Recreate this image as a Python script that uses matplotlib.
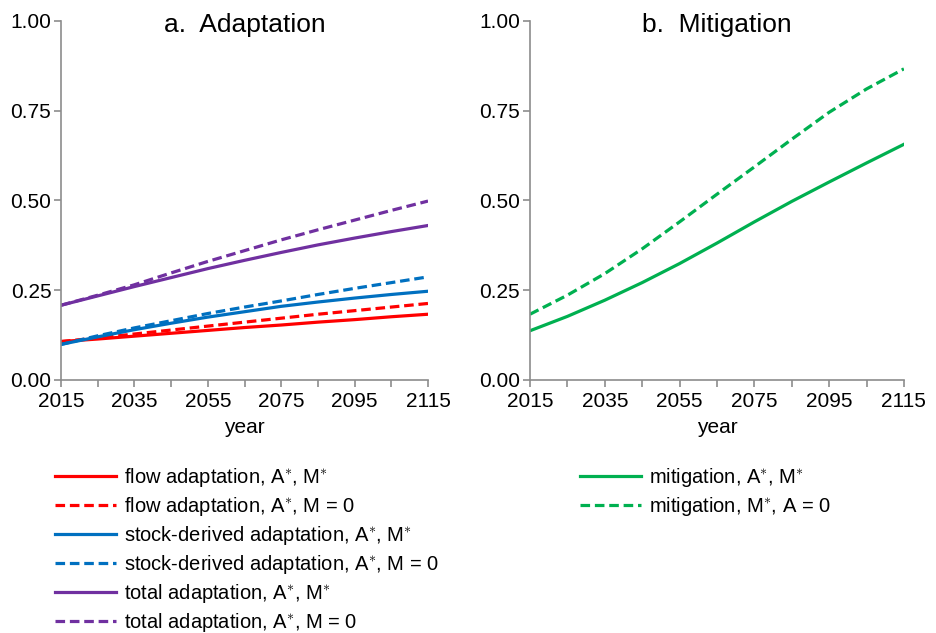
import matplotlib
matplotlib.use('Agg')
import matplotlib.pyplot as plt
import numpy as np

plt.rcParams['font.family'] = ['Liberation Sans', 'DejaVu Sans']
plt.rcParams['mathtext.fontset'] = 'custom'
plt.rcParams['mathtext.rm'] = 'Liberation Sans'
plt.rcParams['mathtext.it'] = 'Liberation Sans'

# Data
years = [2015, 2025, 2035, 2045, 2055, 2065, 2075, 2085, 2095, 2105, 2115]

flow_opt = [0.107, 0.114, 0.122, 0.130, 0.138, 0.146, 0.153, 0.161, 0.168, 0.176, 0.183]
flow_m0 = [0.107, 0.117, 0.128, 0.139, 0.150, 0.161, 0.172, 0.183, 0.193, 0.203, 0.213]
stock_opt = [0.099, 0.120, 0.140, 0.158, 0.175, 0.190, 0.205, 0.217, 0.228, 0.238, 0.247]
stock_m0 = [0.099, 0.123, 0.145, 0.165, 0.185, 0.203, 0.220, 0.238, 0.255, 0.271, 0.287]
total_opt = [0.208, 0.234, 0.260, 0.285, 0.310, 0.333, 0.355, 0.376, 0.395, 0.413, 0.430]
total_m0 = [0.208, 0.236, 0.265, 0.298, 0.330, 0.360, 0.390, 0.418, 0.445, 0.472, 0.498]

mitig_opt = [0.137, 0.177, 0.222, 0.271, 0.324, 0.381, 0.440, 0.497, 0.551, 0.604, 0.656]
mitig_a0 = [0.183, 0.236, 0.296, 0.365, 0.440, 0.517, 0.593, 0.670, 0.745, 0.810, 0.866]

red = '#FF0000'
blue = '#0070C0'
purple = '#7030A0'
green = '#00B050'
gray = '#8C8C8C'
dash = (0, (3, 1.5))
lw = 2.3
st = r'$^{\ast}$'

fig = plt.figure(figsize=(9.37, 6.33), dpi=100)
ax1 = fig.add_axes([0.0651, 0.3997, 0.3917, 0.5676])
ax2 = fig.add_axes([0.5656, 0.3997, 0.3991, 0.5676])

ax1.plot(years, flow_opt, color=red, lw=lw, label='flow adaptation, A' + st + ', M' + st)
ax1.plot(years, flow_m0, color=red, lw=lw, ls=dash, label='flow adaptation, A' + st + ', M = 0')
ax1.plot(years, stock_opt, color=blue, lw=lw, label='stock-derived adaptation, A' + st + ', M' + st)
ax1.plot(years, stock_m0, color=blue, lw=lw, ls=dash, label='stock-derived adaptation, A' + st + ', M = 0')
ax1.plot(years, total_opt, color=purple, lw=lw, label='total adaptation, A' + st + ', M' + st)
ax1.plot(years, total_m0, color=purple, lw=lw, ls=dash, label='total adaptation, A' + st + ', M = 0')

ax2.plot(years, mitig_opt, color=green, lw=lw, label='mitigation, A' + st + ', M' + st)
ax2.plot(years, mitig_a0, color=green, lw=lw, ls=dash, label='mitigation, M' + st + ', A = 0')

for ax, title in [(ax1, 'a.  Adaptation'), (ax2, 'b.  Mitigation')]:
    ax.set_xlim(2015, 2115)
    ax.set_ylim(0, 1)
    ax.set_xticks(np.arange(2015, 2116, 20))
    ax.set_xticks(np.arange(2025, 2116, 20), minor=True)
    ax.set_yticks([0, 0.25, 0.5, 0.75, 1.0])
    ax.set_yticklabels(['0.00', '0.25', '0.50', '0.75', '1.00'])
    for s in ['top', 'right']:
        ax.spines[s].set_visible(False)
    for s in ['left', 'bottom']:
        ax.spines[s].set_color(gray)
        ax.spines[s].set_linewidth(1.2)
    ax.tick_params(which='both', direction='out', length=5, width=1.2,
                   color=gray, labelsize=15, pad=2)
    ax.tick_params(axis='x', which='both', pad=4)
    ax.set_xlabel('year', fontsize=15, labelpad=5)
    ax.text(0.5, 0.9686, title, transform=ax.transAxes, ha='center',
            va='baseline', fontsize=19)

leg_kw = dict(frameon=False, fontsize=14.5, handlelength=3.05, handletextpad=0.4,
              labelspacing=0.3, borderpad=0, borderaxespad=0, loc='upper left')
h1, l1 = ax1.get_legend_handles_labels()
fig.legend(h1, l1, bbox_to_anchor=(55 / 937, 1 - 466 / 633), **leg_kw)
h2, l2 = ax2.get_legend_handles_labels()
fig.legend(h2, l2, bbox_to_anchor=(580 / 937, 1 - 466 / 633), **leg_kw)

fig.savefig('out.png', dpi=100)
